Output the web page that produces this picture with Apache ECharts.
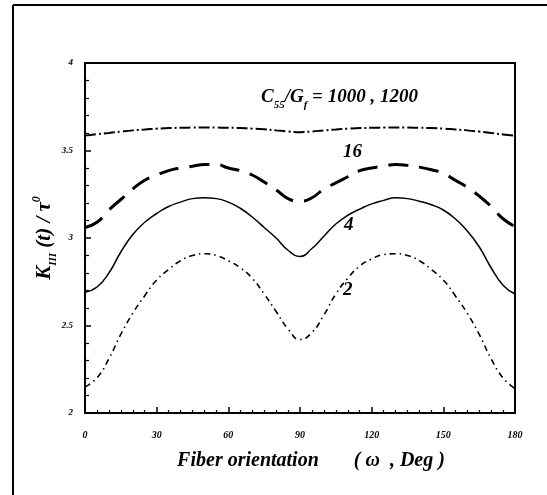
<!DOCTYPE html>
<html>
<head>
<meta charset="utf-8">
<script src="https://cdn.jsdelivr.net/npm/echarts@6/dist/echarts.min.js"></script>
<style>
  html, body { margin: 0; padding: 0; background: #fff; }
  #main { width: 547px; height: 495px; }
</style>
</head>
<body>
<div id="main"></div>
<script>
// fiber angle, deg
var angles = [0, 5, 10, 15, 20, 25, 30, 35, 40, 45, 50, 55, 60, 65, 70, 75, 80, 85, 90,
  95, 100, 105, 110, 115, 120, 125, 130, 135, 140, 145, 150, 155, 160, 165, 170, 175, 180];

// C55/Gf = 1000, 1200
var k1000 = [3.585, 3.593, 3.600, 3.608, 3.615, 3.620, 3.625, 3.628, 3.630, 3.631, 3.632, 3.631, 3.630, 3.628, 3.625, 3.621, 3.615, 3.609, 3.605,
  3.609, 3.615, 3.620, 3.625, 3.628, 3.630, 3.631, 3.632, 3.631, 3.630, 3.628, 3.625, 3.620, 3.615, 3.608, 3.600, 3.592, 3.584];
// 16
var k16 = [3.06, 3.09, 3.16, 3.22, 3.28, 3.33, 3.36, 3.385, 3.40, 3.41, 3.42, 3.42, 3.40, 3.385, 3.36, 3.32, 3.275, 3.225, 3.21,
  3.23, 3.28, 3.315, 3.35, 3.385, 3.40, 3.41, 3.42, 3.415, 3.405, 3.39, 3.37, 3.33, 3.29, 3.24, 3.18, 3.11, 3.065];
// 4
var k4 = [2.69, 2.72, 2.80, 2.92, 3.02, 3.09, 3.14, 3.18, 3.205, 3.225, 3.23, 3.225, 3.205, 3.17, 3.12, 3.06, 3.00, 2.93, 2.895,
  2.94, 3.01, 3.08, 3.13, 3.165, 3.195, 3.215, 3.23, 3.225, 3.21, 3.19, 3.16, 3.11, 3.04, 2.95, 2.83, 2.73, 2.68];
// 2
var k2 = [2.15, 2.20, 2.31, 2.45, 2.57, 2.67, 2.76, 2.82, 2.87, 2.90, 2.91, 2.90, 2.87, 2.83, 2.77, 2.68, 2.58, 2.48, 2.42,
  2.46, 2.56, 2.68, 2.77, 2.84, 2.88, 2.905, 2.91, 2.90, 2.87, 2.82, 2.76, 2.67, 2.57, 2.45, 2.31, 2.20, 2.14];

var serif = 'Liberation Serif';

function pairs(vals) {
  return angles.map(function (a, i) { return [a, vals[i]]; });
}

function line(name, vals, width, dash) {
  return {
    name: name,
    type: 'line',
    data: pairs(vals),
    smooth: true,
    showSymbol: false,
    symbol: 'none',
    silent: true,
    lineStyle: { color: '#000', width: width, type: dash }
  };
}

var chart = echarts.init(document.getElementById('main'));

var boldIt = { fontFamily: serif, fontWeight: 'bold', fontStyle: 'italic', color: '#000' };

var option = {
  backgroundColor: '#fff',
  animation: false,
  grid: {
    left: 85, right: 32, top: 63, bottom: 82,
    show: true, borderColor: '#000', borderWidth: 2
  },
  xAxis: {
    type: 'value',
    min: 0, max: 180, interval: 30,
    axisLine: { lineStyle: { color: '#000', width: 2 } },
    axisTick: { inside: true, length: 6, lineStyle: { color: '#000', width: 1.5 } },
    minorTick: { show: true, splitNumber: 6, length: 3, lineStyle: { color: '#000', width: 1.2 } },
    splitLine: { show: false },
    axisLabel: Object.assign({ fontSize: 10, margin: 17 }, boldIt),
    name: 'Fiber orientation       ( ω  , Deg )',
    nameLocation: 'middle',
    nameGap: 38,
    nameTextStyle: Object.assign({ fontSize: 20, padding: [0, 0, 0, 22] }, boldIt)
  },
  yAxis: {
    type: 'value',
    min: 2, max: 4, interval: 0.5,
    axisLine: { lineStyle: { color: '#000', width: 2 } },
    axisTick: { inside: true, length: 6, lineStyle: { color: '#000', width: 1.5 } },
    minorTick: { show: true, splitNumber: 5, length: 4, lineStyle: { color: '#000', width: 1.2 } },
    splitLine: { show: false },
    axisLabel: Object.assign({ fontSize: 9, margin: 12 }, boldIt),
    name: '{k|K}{sub|III}{k| (t) / τ}{sup|0}',
    nameLocation: 'middle',
    nameGap: 26,
    nameMoveOverlap: false,
    nameTextStyle: {
      rich: {
        k: Object.assign({ fontSize: 21, lineHeight: 28, verticalAlign: 'middle' }, boldIt),
        sub: Object.assign({ fontSize: 11, verticalAlign: 'bottom' }, boldIt),
        sup: Object.assign({ fontSize: 12, verticalAlign: 'top' }, boldIt)
      }
    }
  },
  series: [
    line('1000, 1200', k1000, 2, [11, 3, 2, 3]),
    line('16', k16, 3, [20, 11]),
    line('4', k4, 1.5, 'solid'),
    line('2', k2, 1.6, [6, 4, 1.5, 4])
  ],
  graphic: [
    // outer figure frame
    { type: 'line', shape: { x1: 13, y1: 5, x2: 547, y2: 5 }, style: { stroke: '#000', lineWidth: 2 } },
    { type: 'line', shape: { x1: 13, y1: 5, x2: 13, y2: 495 }, style: { stroke: '#000', lineWidth: 2 } },
    {
      type: 'text', left: 261, top: 88,
      style: {
        text: '{m|C}{s|55}{m|/G}{s|f}{m| = 1000 , 1200}',
        rich: {
          m: Object.assign({ fontSize: 19, lineHeight: 26, verticalAlign: 'middle' }, boldIt),
          s: Object.assign({ fontSize: 11, verticalAlign: 'bottom' }, boldIt)
        }
      }
    },
    { type: 'text', left: 343, top: 143, style: Object.assign({ text: '16', fontSize: 19 }, boldIt) },
    { type: 'text', left: 344, top: 216, style: Object.assign({ text: '4', fontSize: 19 }, boldIt) },
    { type: 'text', left: 343, top: 281, style: Object.assign({ text: '2', fontSize: 19 }, boldIt) }
  ]
};

chart.setOption(option);
</script>
</body>
</html>
